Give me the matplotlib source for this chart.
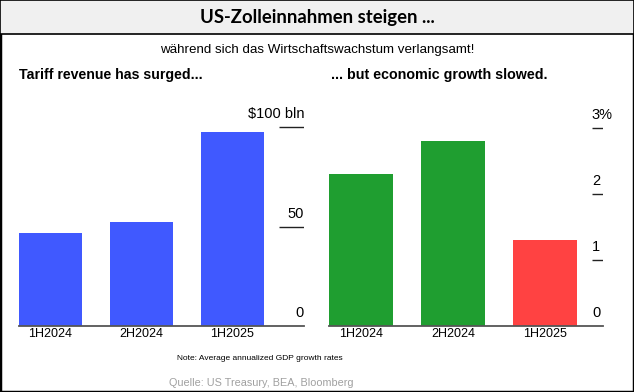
import matplotlib.pyplot as plt
from matplotlib.patches import Rectangle

# data
periods = ["1H2024", "2H2024", "1H2025"]
tariff_revenue = [46.7, 52.3, 97.5]      # $ bln
gdp_growth = [2.3, 2.8, 1.3]             # % annualized
gdp_colors = ["#1f9e30", "#1f9e30", "#ff4242"]
revenue_ticks = [0, 50, 100]
revenue_labels = ["0", "50", "$100 bln"]
growth_ticks = [0, 1, 2, 3]
growth_labels = ["0", "1", "2", "3%"]

W, H = 634, 392
plt.rcParams["font.family"] = ["Liberation Sans", "DejaVu Sans"]

fig = plt.figure(figsize=(W / 100, H / 100), dpi=100)


def box(x0, y0, x1, y1):
    # pixel box (top-left origin) -> figure fraction rect
    return [x0 / W, 1 - y1 / H, (x1 - x0) / W, (y1 - y0) / H]


# outer frame and header band
fig.patches.append(Rectangle((0, 0), 1, 1, transform=fig.transFigure,
                             fill=False, edgecolor="black", linewidth=2.5))
fig.patches.append(Rectangle((0, 1 - 34 / H), 1, 34 / H, transform=fig.transFigure,
                             facecolor="#f0f0f0", edgecolor="black", linewidth=1.2))
fig.text(0.5, 1 - 17 / H, "US-Zolleinnahmen steigen ...", ha="center", va="center",
         fontsize=13.3, fontweight="bold", family=["Lato", "DejaVu Sans"])
fig.text(0.5, 1 - 50 / H, "während sich das Wirtschaftswachstum verlangsamt!",
         ha="center", va="center", fontsize=9.6)


def panel(rect, values, colors, ticks, labels, ymax, tick_start, xmax, label_align):
    ax = fig.add_axes(rect)
    x = range(len(values))
    ax.bar(x, values, width=0.69, color=colors)
    ax.set_ylim(0, ymax)
    ax.set_xlim(-0.345, xmax)
    for s in ["top", "right", "left"]:
        ax.spines[s].set_visible(False)
    ax.spines["bottom"].set_color("#555555")
    ax.spines["bottom"].set_linewidth(1.3)
    ax.set_yticks([])
    ax.set_xticks(list(x))
    ax.set_xticklabels(periods, fontsize=9)
    ax.tick_params(axis="x", length=0, pad=1.5)
    lx = xmax if label_align == "right" else tick_start
    for t, lab in zip(ticks, labels):
        if t > 0:
            ax.hlines(t, tick_start, xmax, color="#222222", linewidth=1)
        ax.annotate(lab, (lx, t), xytext=(0, 4), textcoords="offset points",
                    ha=label_align, va="bottom", fontsize=10.5)
    return ax


ax1 = panel(box(19, 100, 304, 326), tariff_revenue, "#4059ff", revenue_ticks,
            revenue_labels, 226 / 1.99, 2.511, 2.786, "right")
ax2 = panel(box(329, 100, 603, 326), gdp_growth, gdp_colors, growth_ticks,
            growth_labels, 226 / 66, 2.51, 2.63, "left")

fig.text(19 / W, 1 - 75 / H, "Tariff revenue has surged...", fontsize=10.2,
         fontweight="bold", va="center")
fig.text(331 / W, 1 - 75 / H, "... but economic growth slowed.", fontsize=10.3,
         fontweight="bold", va="center")

fig.text(260 / W, 1 - 359 / H, "Note: Average annualized GDP growth rates",
         ha="center", va="center", fontsize=6)
fig.text(261 / W, 1 - 383 / H, "Quelle: US Treasury, BEA, Bloomberg",
         ha="center", va="center", fontsize=7.8, color="#a0a0a0")

fig.savefig("out.png", dpi=100)
